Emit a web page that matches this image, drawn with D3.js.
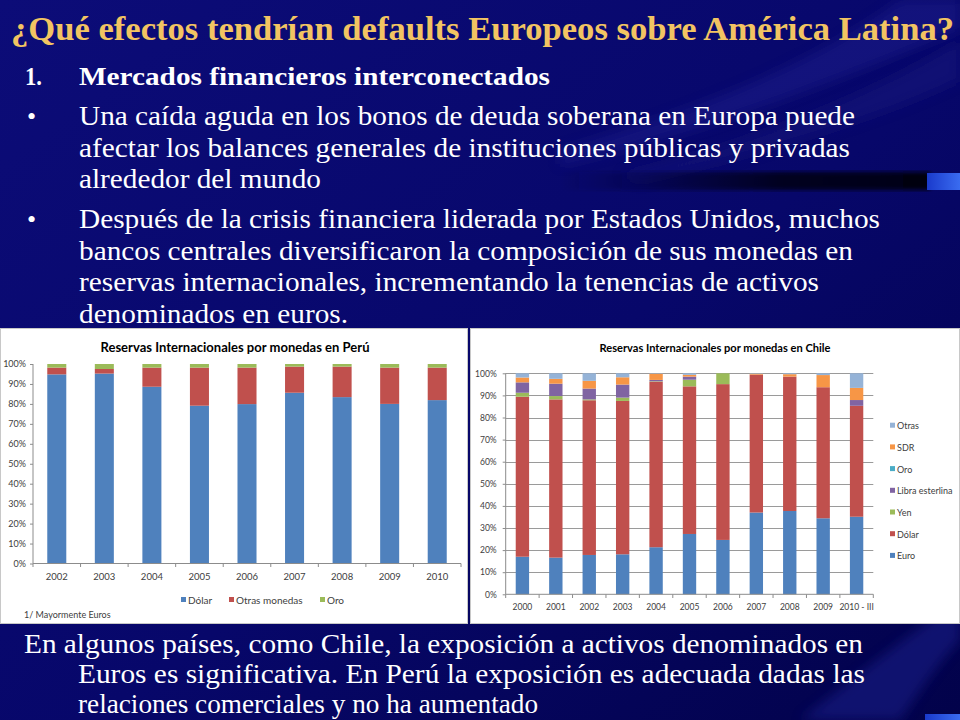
<!DOCTYPE html>
<html><head><meta charset="utf-8">
<script src="https://cdn.jsdelivr.net/npm/d3@7"></script>
<style>html,body{margin:0;padding:0;background:#06066a;}svg{display:block;}
.serif{font-family:"Liberation Serif","Times New Roman",Times,serif;}
</style>
</head><body>
<svg id="slide" width="960" height="720"></svg>
<script>
// ---------- DATA ----------
const peruYears = ["2002","2003","2004","2005","2006","2007","2008","2009","2010"];
const peruDolar = [94.8, 95.2, 88.6, 79.1, 79.9, 85.6, 83.4, 80.0, 81.9];
const peruOtras = [3.4, 2.3, 9.6, 19.1, 18.3, 13.1, 15.3, 18.2, 16.3];
const peruOro   = [1.8, 2.5, 1.8, 1.8, 1.8, 1.3, 1.3, 1.8, 1.8];
const peruSeries = ["Dólar", "Otras monedas", "Oro"];

const chileYears = ["2000","2001","2002","2003","2004","2005","2006","2007","2008","2009","2010 - III"];
const chileEuro  = [17.0, 16.6, 17.8, 18.1, 21.3, 27.3, 24.6, 37.0, 37.7, 34.4, 35.1];
const chileDolar = [72.4, 71.6, 70.0, 69.4, 74.9, 66.8, 70.5, 62.4, 60.8, 59.3, 50.2];
const chileYen   = [1.8, 1.5, 0.4, 1.5, 0.2, 3.0, 4.9, 0, 0, 0, 0];
const chileLibra = [4.7, 5.6, 4.9, 5.9, 0.6, 1.4, 0, 0, 0, 0, 2.6];
const chileOro   = [0, 0, 0, 0, 0, 0, 0, 0, 0, 0, 0];
const chileSDR   = [2.2, 2.2, 3.5, 3.3, 2.8, 0.8, 0, 0.4, 1.1, 5.5, 5.5];
const chileOtras = [1.9, 2.5, 3.4, 1.8, 0.2, 0.7, 0, 0.2, 0.4, 0.8, 6.6];
const chileSeries = ["Euro", "Dólar", "Yen", "Libra esterlina", "Oro", "SDR", "Otras"];

const pctTicks = [0,10,20,30,40,50,60,70,80,90,100];

const titleText = "¿Qué efectos tendrían defaults Europeos sobre América Latina?";
const headText = "Mercados financieros interconectados";
const bullet1 = ["Una caída aguda en los bonos de deuda soberana en Europa puede",
                 "afectar los balances generales de instituciones públicas y privadas",
                 "alrededor del mundo"];
const bullet2 = ["Después de la crisis financiera liderada por Estados Unidos, muchos",
                 "bancos centrales diversificaron la composición de sus monedas en",
                 "reservas internacionales, incrementando la tenencias de activos",
                 "denominados en euros."];
const bottomText = ["En algunos países, como Chile, la exposición a activos denominados en",
                    "Euros es significativa. En Perú la exposición es adecuada dadas las",
                    "relaciones comerciales y no ha aumentado"];

// ---------- SLIDE BACKGROUND ----------
const svg = d3.select("#slide");
const defs = svg.append("defs");
const bg = defs.append("linearGradient").attr("id","bg").attr("x1",0).attr("y1",0).attr("x2",1).attr("y2",1);
bg.append("stop").attr("offset","0%").attr("stop-color","#0c0c78");
bg.append("stop").attr("offset","55%").attr("stop-color","#07076a");
bg.append("stop").attr("offset","100%").attr("stop-color","#02024a");
defs.append("filter").attr("id","blur").append("feGaussianBlur").attr("stdDeviation",6);
defs.append("filter").attr("id","blur2").append("feGaussianBlur").attr("stdDeviation",2);
const streak = defs.append("linearGradient").attr("id","streak").attr("x1",0).attr("x2",1);
streak.append("stop").attr("offset","0%").attr("stop-color","#000030").attr("stop-opacity",0);
streak.append("stop").attr("offset","60%").attr("stop-color","#00001a").attr("stop-opacity",0.9);
streak.append("stop").attr("offset","100%").attr("stop-color","#000010").attr("stop-opacity",1);
const sq = defs.append("linearGradient").attr("id","sq").attr("x1",0).attr("x2",1);
sq.append("stop").attr("offset","0%").attr("stop-color","#1a3acc");
sq.append("stop").attr("offset","100%").attr("stop-color","#3a6cf0");

svg.append("rect").attr("width",960).attr("height",720).attr("fill","url(#bg)");
svg.append("path").attr("d","M960,0 L900,0 C820,60 700,110 560,150 L560,165 C720,130 860,70 960,30 Z")
  .attr("fill","#1a1f8a").attr("opacity",0.55).attr("filter","url(#blur)");
svg.append("path").attr("d","M960,40 C880,90 760,140 620,175 L640,182 C780,150 900,110 960,80 Z")
  .attr("fill","#12127a").attr("opacity",0.6).attr("filter","url(#blur)");
svg.append("path").attr("d","M960,600 C900,640 840,690 800,720 L900,720 C920,690 940,660 960,640 Z")
  .attr("fill","#1c2490").attr("opacity",0.5).attr("filter","url(#blur)");
svg.append("rect").attr("x",560).attr("y",172).attr("width",370).attr("height",18).attr("fill","url(#streak)").attr("filter","url(#blur2)");
svg.append("rect").attr("x",927).attr("y",173).attr("width",33).attr("height",17).attr("fill","url(#sq)");
svg.append("rect").attr("x",925).attr("y",714).attr("width",35).attr("height",6).attr("fill","url(#sq)");

// ---------- TEXT ----------
function line(txt, x, y, size, w, opts) {
  opts = opts || {};
  const t = svg.append("text").attr("class","serif").attr("x",x).attr("y",y)
    .attr("font-size",size).attr("fill",opts.fill || "#ffffff")
    .attr("font-weight",opts.bold ? "bold" : "normal").text(txt);
  if (w) t.attr("textLength",w).attr("lengthAdjust","spacingAndGlyphs");
  return t;
}
line(titleText, 11, 40, 33, 943, {fill:"#f2c462", bold:true});
line("1.", 25, 85, 25, 17, {bold:true});
line(headText, 79, 85, 25, 471, {bold:true});
const b1w = [776, 771, 242];
bullet1.forEach((s,i)=> line(s, 79, 125 + i*31.5, 27, b1w[i]));
line("•", 27, 125, 26);
const b2w = [801, 774, 740, 269];
bullet2.forEach((s,i)=> line(s, 79, 228 + i*31.7, 27, b2w[i]));
line("•", 27, 228, 26);
const btw = [839, 787, 460];
bottomText.forEach((s,i)=> line(s, i===0 ? 24 : 78, 653 + i*30, 27, btw[i]));

// ---------- CHART PANELS ----------
const CF = "Lato, 'Open Sans', sans-serif";
const colorsPeru = {"Dólar":"#4f81bd","Otras monedas":"#c0504d","Oro":"#9bbb59"};
const colorsChile = {"Euro":"#4f81bd","Dólar":"#c0504d","Yen":"#9bbb59","Libra esterlina":"#8064a2",
                     "Oro":"#4bacc6","SDR":"#f79646","Otras":"#95b3d7"};

svg.append("rect").attr("x",0.5).attr("y",328.5).attr("width",467).attr("height",295).attr("fill","#ffffff").attr("stroke","#c8c8c8");
svg.append("rect").attr("x",470.5).attr("y",328.5).attr("width",489).attr("height",295).attr("fill","#ffffff").attr("stroke","#c8c8c8");

// ----- Peru -----
(function(){
  const g = svg.append("g");
  const x = d3.scaleBand().domain(peruYears).range([33, 461]).paddingInner(0.6).paddingOuter(0.3);
  const y = d3.scaleLinear().domain([0,100]).range([563.5, 364]);
  const rows = peruYears.map((yr,i)=>({year:yr,"Dólar":peruDolar[i],"Otras monedas":peruOtras[i],"Oro":peruOro[i]}));
  const stack = d3.stack().keys(peruSeries)(rows);
  g.selectAll("g.s").data(stack).join("g").attr("fill",d=>colorsPeru[d.key])
    .selectAll("rect").data(d=>d).join("rect")
    .attr("x",d=>x(d.data.year)).attr("width",x.bandwidth())
    .attr("y",d=>y(Math.min(100,d[1]))).attr("height",d=>y(d[0])-y(Math.min(100,d[1])));
  const ya = g.append("g").attr("transform","translate(33,0)")
    .call(d3.axisLeft(y).tickValues(pctTicks).tickFormat(d=>d+"%").tickSize(3).tickPadding(4));
  ya.select(".domain").attr("stroke","#8c8c8c").attr("d","M0,364V563.5");
  ya.selectAll(".tick line").attr("stroke","#8c8c8c");
  ya.selectAll("text").attr("font-family",CF).attr("font-size",9).attr("fill","#404040");
  const xa = g.append("g").attr("transform","translate(0,563.5)")
    .call(d3.axisBottom(x).tickSize(0).tickPadding(10));
  xa.select(".domain").attr("stroke","#8c8c8c").attr("d","M33,0H461");
  xa.selectAll("text").attr("font-family",CF).attr("font-size",9.5).attr("fill","#404040");
  const bounds = d3.range(peruYears.length+1).map(i=>x.range()[0] + i*x.step());
  g.selectAll("line.bt").data(bounds).join("line").attr("x1",d=>d).attr("x2",d=>d)
    .attr("y1",563.5).attr("y2",567).attr("stroke","#8c8c8c");
  g.append("text").attr("x",235).attr("y",352).attr("text-anchor","middle")
    .attr("font-family",CF).attr("font-weight","bold").attr("font-size",12.5).attr("fill","#000")
    .attr("textLength",269).attr("lengthAdjust","spacingAndGlyphs")
    .text("Reservas Internacionales por monedas en Perú");
  const legX = [181, 229, 320];
  peruSeries.forEach((k,i)=>{
    g.append("rect").attr("x",legX[i]).attr("y",597).attr("width",5).attr("height",5).attr("fill",colorsPeru[k]);
    g.append("text").attr("x",legX[i]+7).attr("y",603.5).attr("font-family",CF).attr("font-size",10).attr("fill","#404040").text(k);
  });
  g.append("text").attr("x",24).attr("y",618).attr("font-family",CF).attr("font-size",9).attr("fill","#404040").text("1/ Mayormente  Euros");
})();

// ----- Chile -----
(function(){
  const g = svg.append("g");
  const x0 = 505.7, x1 = 873.3;
  const x = d3.scaleBand().domain(chileYears).range([x0, x1]).paddingInner(0.6).paddingOuter(0.3);
  const y = d3.scaleLinear().domain([0,100]).range([594.3, 373.3]);
  g.selectAll("line.grid").data(pctTicks.slice(1)).join("line")
    .attr("x1",x0).attr("x2",x1).attr("y1",d=>Math.round(y(d))+0.5).attr("y2",d=>Math.round(y(d))+0.5)
    .attr("stroke","#9a9a9a").attr("stroke-width",1);
  const rows = chileYears.map((yr,i)=>({year:yr,"Euro":chileEuro[i],"Dólar":chileDolar[i],"Yen":chileYen[i],
    "Libra esterlina":chileLibra[i],"Oro":chileOro[i],"SDR":chileSDR[i],"Otras":chileOtras[i]}));
  const stack = d3.stack().keys(chileSeries)(rows);
  g.selectAll("g.s").data(stack).join("g").attr("fill",d=>colorsChile[d.key])
    .selectAll("rect").data(d=>d).join("rect")
    .attr("x",d=>x(d.data.year)).attr("width",x.bandwidth())
    .attr("y",d=>y(Math.min(100,d[1]))).attr("height",d=>Math.max(0,y(d[0])-y(Math.min(100,d[1]))));
  const ya = g.append("g").attr("transform",`translate(${x0},0)`)
    .call(d3.axisLeft(y).tickValues(pctTicks).tickFormat(d=>d+"%").tickSize(3).tickPadding(6));
  ya.select(".domain").attr("stroke","#8c8c8c").attr("d","M0,373.3V594.3");
  ya.selectAll(".tick line").attr("stroke","#8c8c8c");
  ya.selectAll("text").attr("font-family",CF).attr("font-size",8.5).attr("fill","#404040");
  const xa = g.append("g").attr("transform","translate(0,594.3)")
    .call(d3.axisBottom(x).tickSize(0).tickPadding(10));
  xa.select(".domain").attr("stroke","#8c8c8c").attr("d",`M${x0},0H${x1}`);
  xa.selectAll("text").attr("font-family",CF).attr("font-size",8.5).attr("fill","#404040");
  const bounds = d3.range(chileYears.length+1).map(i=>x.range()[0] + i*x.step());
  g.selectAll("line.bt").data(bounds).join("line").attr("x1",d=>d).attr("x2",d=>d)
    .attr("y1",594.3).attr("y2",598).attr("stroke","#8c8c8c");
  g.append("text").attr("x",715).attr("y",352).attr("text-anchor","middle")
    .attr("font-family",CF).attr("font-weight","bold").attr("font-size",11.5).attr("fill","#000")
    .attr("textLength",231).attr("lengthAdjust","spacingAndGlyphs")
    .text("Reservas Internacionales por monedas en Chile");
  const legend = chileSeries.slice().reverse();
  legend.forEach((k,i)=>{
    const ly = 425.7 + i*21.7;
    g.append("rect").attr("x",890).attr("y",ly-3).attr("width",5).attr("height",5).attr("fill",colorsChile[k]);
    g.append("text").attr("x",897).attr("y",ly+3.5).attr("font-family",CF).attr("font-size",9).attr("fill","#404040").text(k);
  });
})();
</script>
</body></html>
